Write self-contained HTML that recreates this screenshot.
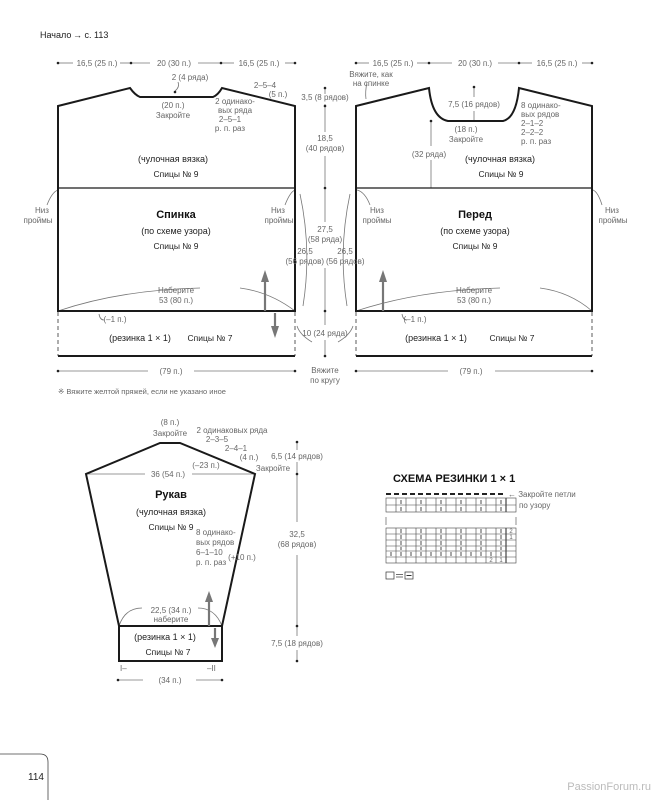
<!DOCTYPE html>
<html><head><meta charset="utf-8"><style>
html,body{margin:0;padding:0;background:#fff}
svg{display:block}
text{font-family:"Liberation Sans",sans-serif;}
.g{fill:#666;font-size:8px}
.d{fill:#222;font-size:8.5px}
.b{fill:#111;font-size:11px;font-weight:bold}
</style></head><body>
<svg width="656" height="800" viewBox="0 0 656 800" xmlns="http://www.w3.org/2000/svg">
<text x="40" y="38" class="d" style="font-size:9px">Начало</text>
<text x="73" y="38" class="d" style="font-size:9px">→ с. 113</text>

<g stroke="#777" stroke-width="0.8" fill="none">
<line x1="58" y1="63" x2="73" y2="63"/><line x1="120" y1="63" x2="131" y2="63"/><line x1="131" y1="63" x2="150" y2="63"/><line x1="198" y1="63" x2="221" y2="63"/><line x1="221" y1="63" x2="234" y2="63"/><line x1="285" y1="63" x2="295" y2="63"/>
<line x1="58" y1="371" x2="148" y2="371"/><line x1="194" y1="371" x2="295" y2="371"/>
<line x1="356" y1="63" x2="369" y2="63"/><line x1="417" y1="63" x2="429" y2="63"/><line x1="429" y1="63" x2="452" y2="63"/><line x1="498" y1="63" x2="519" y2="63"/><line x1="519" y1="63" x2="532" y2="63"/><line x1="582" y1="63" x2="592" y2="63"/>
<line x1="356" y1="371" x2="448" y2="371"/><line x1="495" y1="371" x2="592" y2="371"/>
<line x1="325" y1="88" x2="325" y2="94"/><line x1="325" y1="104" x2="325" y2="132"/><line x1="325" y1="156" x2="325" y2="222"/><line x1="325" y1="268" x2="325" y2="325"/><line x1="325" y1="340" x2="325" y2="356"/>
<path d="M300 194 Q312 250 303 306"/><path d="M350 194 Q338 250 347 306"/>
<path d="M58 311 Q120 290 200 288"/><path d="M240 288 Q270 292 295 311"/>
<path d="M356 311 Q420 290 500 288"/><path d="M540 288 Q570 292 592 311"/>
<path d="M47 205 Q52 192 58 190"/><path d="M285 205 Q290 192 295 190"/>
<path d="M370 205 Q365 192 357 190"/><path d="M602 205 Q598 192 593 190"/>
<path d="M99 314 Q100 320 104 320"/><path d="M402 314 Q403 320 407 320"/>
<path d="M175 91 Q180 87 178 82"/>
<path d="M312 342 Q300 335 297 326"/><path d="M338 342 Q350 335 353 326"/>
<path d="M367 82 Q365 92 366 99" />
<line x1="474" y1="87" x2="474" y2="97"/><line x1="474" y1="111" x2="474" y2="121"/>
<line x1="431" y1="121" x2="431" y2="146"/><line x1="431" y1="160" x2="431" y2="188"/>
</g>
<g fill="#222">
<circle cx="58" cy="63" r="1.3"/><circle cx="131" cy="63" r="1.3"/><circle cx="221" cy="63" r="1.3"/><circle cx="295" cy="63" r="1.3"/>
<circle cx="58" cy="371" r="1.3"/><circle cx="295" cy="371" r="1.3"/>
<circle cx="356" cy="63" r="1.3"/><circle cx="429" cy="63" r="1.3"/><circle cx="519" cy="63" r="1.3"/><circle cx="592" cy="63" r="1.3"/>
<circle cx="356" cy="371" r="1.3"/><circle cx="592" cy="371" r="1.3"/>
<circle cx="325" cy="88" r="1.3"/><circle cx="325" cy="106" r="1.3"/><circle cx="325" cy="188" r="1.3"/><circle cx="325" cy="311" r="1.3"/><circle cx="325" cy="356" r="1.3"/>
<circle cx="474" cy="87" r="1.3"/><circle cx="431" cy="121" r="1.3"/><circle cx="175" cy="92" r="1.3"/>
</g>

<g stroke="#1a1a1a" stroke-width="2" fill="none" stroke-linejoin="miter">
<path d="M58 106 L130 88 Q135 95 140 97 L213 97 Q218 95 222 88 L295 106 L295 311 L58 311 Z"/>
<line x1="58" y1="188" x2="295" y2="188" stroke-width="1.2"/>
<line x1="58" y1="356" x2="295" y2="356"/>
<path d="M356 106 L429 88 Q432 118 448 121 L503 121 Q516 118 519 88 L592 106 L592 311 L356 311 Z"/>
<line x1="356" y1="188" x2="592" y2="188" stroke-width="1.2"/>
<line x1="356" y1="356" x2="592" y2="356"/>
</g>
<g stroke="#333" stroke-width="0.8" stroke-dasharray="4,3">
<line x1="58" y1="312" x2="58" y2="356"/><line x1="295" y1="312" x2="295" y2="356"/>
<line x1="356" y1="312" x2="356" y2="356"/><line x1="592" y1="312" x2="592" y2="356"/>
</g>
<g stroke="#777" stroke-width="2.2" fill="#777">
<line x1="265" y1="311" x2="265" y2="280"/><path d="M261 282 L265 270 L269 282 Z" stroke="none"/>
<line x1="275" y1="313" x2="275" y2="328"/><path d="M271 326 L275 338 L279 326 Z" stroke="none"/>
<line x1="383" y1="311" x2="383" y2="280"/><path d="M379 282 L383 270 L387 282 Z" stroke="none"/>
</g>

<g class="g" text-anchor="middle">
<text x="97" y="66">16,5 (25 п.)</text><text x="174" y="66">20 (30 п.)</text><text x="259" y="66">16,5 (25 п.)</text>
<text x="393" y="66">16,5 (25 п.)</text><text x="475" y="66">20 (30 п.)</text><text x="557" y="66">16,5 (25 п.)</text>
<text x="190" y="80">2 (4 ряда)</text>
<text x="265" y="88">2–5–4</text><text x="278" y="97">(5 п.)</text>
<text x="173" y="108">(20 п.)</text><text x="173" y="118">Закройте</text>
<text x="235" y="104">2 одинако-</text><text x="235" y="113">вых ряда</text><text x="230" y="122">2–5–1</text><text x="230" y="131">р. п. раз</text>
<text x="173" y="162" class="d" style="font-size:9px">(чулочная вязка)</text>
<text x="176" y="177" class="d">Спицы № 9</text>
<text x="176" y="218" class="b">Спинка</text>
<text x="176" y="234" class="d" style="font-size:9px">(по схеме узора)</text>
<text x="176" y="249" class="d">Спицы № 9</text>
<text x="42" y="213">Низ</text><text x="38" y="223">проймы</text>
<text x="278" y="213">Низ</text><text x="279" y="223">проймы</text>
<text x="305" y="254">26,5</text>
<text x="345" y="254">26,5</text>
<text x="325" y="232">27,5</text><text x="325" y="242">(58 ряда)</text>
<text x="176" y="293">Наберите</text><text x="176" y="303">53 (80 п.)</text>
<text x="115" y="322">(–1 п.)</text>
<text x="415" y="322">(–1 п.)</text>
<text x="140" y="341" class="d" style="font-size:9px">(резинка 1 × 1)</text>
<text x="210" y="341" class="d">Спицы № 7</text>
<text x="171" y="374">(79 п.)</text>
<text x="471" y="374">(79 п.)</text>
<text x="325" y="100">3,5 (8 рядов)</text>
<text x="325" y="141">18,5</text><text x="325" y="151">(40 рядов)</text>
<text x="325" y="336">10 (24 ряда)</text>
<text x="325" y="373">Вяжите</text><text x="325" y="383">по кругу</text>
<text x="371" y="77">Вяжите, как</text><text x="371" y="86">на спинке</text>
<text x="474" y="107">7,5 (16 рядов)</text>
<text x="466" y="132">(18 п.)</text><text x="466" y="142">Закройте</text>
<text x="429" y="157">(32 ряда)</text>
<text x="500" y="162" class="d" style="font-size:9px">(чулочная вязка)</text>
<text x="501" y="177" class="d">Спицы № 9</text>
<text x="475" y="218" class="b">Перед</text>
<text x="475" y="234" class="d" style="font-size:9px">(по схеме узора)</text>
<text x="475" y="249" class="d">Спицы № 9</text>
<text x="377" y="213">Низ</text><text x="377" y="223">проймы</text>
<text x="612" y="213">Низ</text><text x="613" y="223">проймы</text>
<text x="474" y="293">Наберите</text><text x="474" y="303">53 (80 п.)</text>
<text x="436" y="341" class="d" style="font-size:9px">(резинка 1 × 1)</text>
<text x="512" y="341" class="d">Спицы № 7</text>
</g>
<g class="g">
<text x="324" y="264" text-anchor="end">(56 рядов)</text>
<text x="326" y="264">(56 рядов)</text>
<text x="521" y="108">8 одинако-</text><text x="521" y="117">вых рядов</text><text x="521" y="126">2–1–2</text><text x="521" y="135">2–2–2</text><text x="521" y="144">р. п. раз</text>
<text x="58" y="394" style="font-size:7.5px">※ Вяжите желтой пряжей, если не указано иное</text>
</g>

<!-- SLEEVE -->
<g stroke="#777" stroke-width="0.8" fill="none">
<line x1="86" y1="474" x2="145" y2="474"/><line x1="192" y1="474" x2="255" y2="474"/>
<line x1="297" y1="442" x2="297" y2="450"/><line x1="297" y1="462" x2="297" y2="522"/><line x1="297" y1="555" x2="297" y2="636"/><line x1="297" y1="650" x2="297" y2="661"/>
<line x1="118" y1="680" x2="143" y2="680"/><line x1="196" y1="680" x2="222" y2="680"/>
<path d="M119 626 Q125 608 142 608"/><path d="M198 608 Q215 608 222 626"/>
</g>
<g fill="#222">
<circle cx="297" cy="442" r="1.3"/><circle cx="297" cy="474" r="1.3"/><circle cx="297" cy="626" r="1.3"/><circle cx="297" cy="661" r="1.3"/>
<circle cx="118" cy="680" r="1.3"/><circle cx="222" cy="680" r="1.3"/>
</g>
<g stroke="#1a1a1a" stroke-width="2" fill="none">
<path d="M160 443 L180 443 L255 474 L222 626 L119 626 L86 474 Z"/>
<rect x="119" y="626" width="103" height="35"/>
</g>
<g stroke="#777" stroke-width="2.2" fill="#777">
<line x1="209" y1="626" x2="209" y2="600"/><path d="M205 602 L209 591 L213 602 Z" stroke="none"/>
<line x1="215" y1="628" x2="215" y2="640"/><path d="M211 638 L215 648 L219 638 Z" stroke="none"/>
</g>
<g class="g" text-anchor="middle">
<text x="170" y="425">(8 п.)</text><text x="170" y="436">Закройте</text>
<text x="232" y="433">2 одинаковых ряда</text><text x="217" y="442">2–3–5</text><text x="236" y="451">2–4–1</text><text x="249" y="460">(4 п.)</text>
<text x="273" y="471">Закройте</text>
<text x="168" y="477">36 (54 п.)</text><text x="206" y="468">(–23 п.)</text>
<text x="171" y="498" class="b">Рукав</text>
<text x="171" y="515" class="d" style="font-size:9px">(чулочная вязка)</text>
<text x="171" y="530" class="d">Спицы № 9</text>
<text x="297" y="459">6,5 (14 рядов)</text>
<text x="297" y="537">32,5</text><text x="297" y="547">(68 рядов)</text>
<text x="242" y="560">(+10 п.)</text>
<text x="171" y="613">22,5 (34 п.)</text><text x="171" y="622">наберите</text>
<text x="165" y="640" class="d" style="font-size:9px">(резинка 1 × 1)</text>
<text x="168" y="655" class="d">Спицы № 7</text>
<text x="297" y="646">7,5 (18 рядов)</text>
<text x="170" y="683">(34 п.)</text>
</g>
<g class="g">
<text x="196" y="535">8 одинако-</text><text x="196" y="545">вых рядов</text><text x="196" y="555">6–1–10</text><text x="196" y="565">р. п. раз</text>
<text x="120" y="671">I–</text><text x="207" y="671">–II</text>
</g>

<!-- CHART -->
<text x="393" y="482" class="b" style="font-size:11px">СХЕМА РЕЗИНКИ 1 × 1</text>
<line x1="386" y1="494" x2="504" y2="494" stroke="#222" stroke-width="2" stroke-dasharray="5,3"/>
<text x="508" y="497" class="g">← Закройте петли</text>
<text x="519" y="508" class="g">по узору</text>
<g stroke="#444" stroke-width="0.6" fill="none">
<rect x="386" y="498" width="130" height="14"/>
<line x1="386" y1="505" x2="516" y2="505"/>
<line x1="386" y1="517" x2="386" y2="525"/><line x1="516" y1="517" x2="516" y2="525"/>
<rect x="386" y="528" width="130" height="35"/>
<line x1="386" y1="534" x2="516" y2="534"/><line x1="386" y1="540" x2="516" y2="540"/><line x1="386" y1="546" x2="516" y2="546"/><line x1="386" y1="551" x2="516" y2="551"/><line x1="386" y1="557" x2="516" y2="557"/>
<path d="M396 498v14M406 498v14M416 498v14M426 498v14M436 498v14M446 498v14M456 498v14M466 498v14M476 498v14M486 498v14M496 498v14M506 498v14"/>
<path d="M396 528v35M406 528v35M416 528v35M426 528v35M436 528v35M446 528v35M456 528v35M466 528v35M476 528v35M486 528v35M496 528v35M506 528v35"/>
<line x1="506" y1="498" x2="506" y2="512" stroke-width="1.2"/><line x1="506" y1="528" x2="506" y2="563" stroke-width="1.2"/>
</g>
<g stroke="#222" stroke-width="0.8">
<path d="M401 500v4M421 500v4M441 500v4M461 500v4M481 500v4M501 500v4 M401 507v4M421 507v4M441 507v4M461 507v4M481 507v4M501 507v4"/>
<path d="M401 529v4M421 529v4M441 529v4M461 529v4M481 529v4M501 529v4 M401 535v4M421 535v4M441 535v4M461 535v4M481 535v4M501 535v4 M401 541v4M421 541v4M441 541v4M461 541v4M481 541v4M501 541v4 M401 547v3M421 547v3M441 547v3M461 547v3M481 547v3M501 547v3"/>
<path d="M391 552v4M401 552v4M411 552v4M421 552v4M431 552v4M441 552v4M451 552v4M461 552v4M471 552v4M481 552v4M491 552v4M501 552v4"/>
</g>
<g class="g" style="font-size:6px" text-anchor="middle">
<text x="511" y="533">2</text><text x="511" y="539">1</text>
<text x="491" y="562">2</text><text x="501" y="562">1</text>
</g>
<g stroke="#333" stroke-width="0.7" fill="none">
<rect x="386" y="572" width="8" height="7"/><rect x="405" y="572" width="8" height="7"/>
<line x1="396" y1="574.5" x2="403" y2="574.5"/><line x1="396" y1="577" x2="403" y2="577"/>
<line x1="406.5" y1="575.5" x2="411.5" y2="575.5" stroke-width="1"/>
</g>

<path d="M0 754 L40 754 Q48 754 48 762 L48 800" stroke="#444" stroke-width="0.8" fill="none"/>
<text x="28" y="780" class="d" style="font-size:10px">114</text>
<text x="651" y="790" text-anchor="end" style="font-size:11px;fill:#bbb">PassionForum.ru</text>
</svg>
</body></html>
